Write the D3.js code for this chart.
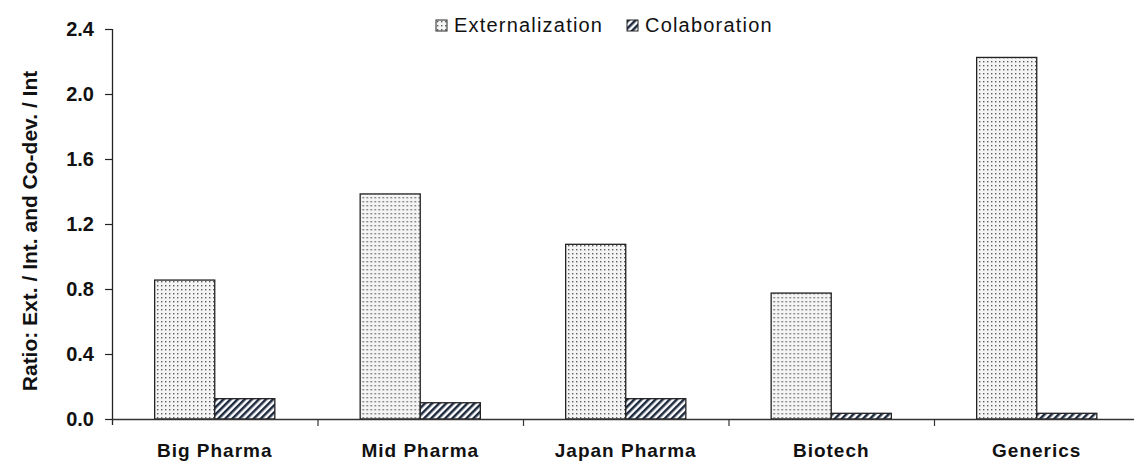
<!DOCTYPE html>
<html>
<head>
<meta charset="utf-8">
<script src="https://cdn.jsdelivr.net/npm/d3@7"></script>
<style>
  html, body { margin: 0; padding: 0; background: #fff; }
  svg { display: block; font-family: "Liberation Sans", Arial, sans-serif; }
</style>
</head>
<body>
<svg id="chart" width="1134" height="462"></svg>
<script>
// Categories and series
const categories = ["Big Pharma", "Mid Pharma", "Japan Pharma", "Biotech", "Generics"];
const seriesNames = ["Externalization", "Colaboration"];
const externalization = [0.855, 1.385, 1.075, 0.775, 2.225];
const colaboration = [0.125, 0.10, 0.125, 0.035, 0.035];
const yTicks = [0.0, 0.4, 0.8, 1.2, 1.6, 2.0, 2.4];

const svg = d3.select("#chart");
const margin = { left: 112, top: 29, bottom: 419 };
const bandStep = 205.5;

const x = d3.scaleBand()
  .domain(categories)
  .range([margin.left, margin.left + bandStep * categories.length])
  .paddingInner(0).paddingOuter(0);

const xSub = d3.scaleBand()
  .domain(seriesNames)
  .range([0, x.bandwidth()])
  .paddingInner(0)
  .paddingOuter(0.71);

const y = d3.scaleLinear().domain([0, 2.4]).range([margin.bottom, margin.top]);

// Fill patterns
const defs = svg.append("defs");
const dots = defs.append("pattern")
  .attr("id", "dots").attr("patternUnits", "userSpaceOnUse")
  .attr("width", 4).attr("height", 4);
dots.append("rect").attr("width", 4).attr("height", 4).attr("fill", "#f5f5f5");
dots.append("rect").attr("x", 1).attr("y", 1).attr("width", 1.4).attr("height", 1.4).attr("fill", "#5e5e5e");

const hatch = defs.append("pattern")
  .attr("id", "hatch").attr("patternUnits", "userSpaceOnUse")
  .attr("width", 5).attr("height", 5)
  .attr("patternTransform", "rotate(45)");
hatch.append("rect").attr("width", 5).attr("height", 5).attr("fill", "#ffffff");
hatch.append("rect").attr("x", 0).attr("y", 0).attr("width", 2.5).attr("height", 5).attr("fill", "#1e2a40");

const fills = { "Externalization": "url(#dots)", "Colaboration": "url(#hatch)" };
const rows = categories.map((c, i) => ({
  category: c,
  values: [
    { key: "Externalization", value: externalization[i] },
    { key: "Colaboration", value: colaboration[i] }
  ]
}));

// Bars
const groups = svg.append("g").selectAll("g")
  .data(rows).join("g")
  .attr("transform", d => `translate(${x(d.category)},0)`);

groups.selectAll("rect")
  .data(d => d.values).join("rect")
  .attr("x", d => xSub(d.key))
  .attr("width", xSub.bandwidth())
  .attr("y", d => y(d.value))
  .attr("height", d => y(0) - y(d.value))
  .attr("fill", d => fills[d.key])
  .attr("stroke", "#222")
  .attr("stroke-width", 1.3);

// Y axis
const yAxis = svg.append("g")
  .attr("transform", `translate(${margin.left},0)`)
  .call(d3.axisLeft(y).tickValues(yTicks).tickFormat(d3.format(".1f")).tickSize(7).tickSizeOuter(0));
yAxis.select(".domain").attr("stroke", "#222").attr("stroke-width", 1.3)
  .attr("d", `M0.5,${margin.top}V${margin.bottom + 6}`);
yAxis.selectAll(".tick line").attr("stroke", "#222").attr("stroke-width", 1.2);
yAxis.selectAll(".tick text")
  .attr("x", -18)
  .attr("font-size", 20).attr("font-weight", "bold").attr("fill", "#111")
  .attr("font-family", "Liberation Sans, Arial, sans-serif");

// X axis
const xAxis = svg.append("g")
  .attr("transform", `translate(0,${margin.bottom})`)
  .call(d3.axisBottom(x).tickSize(0).tickSizeOuter(0));
xAxis.select(".domain").attr("stroke", "#333").attr("stroke-width", 1.5)
  .attr("d", `M${margin.left},0.5H1134`);
xAxis.selectAll(".tick text")
  .attr("y", 25)
  .attr("font-size", 19).attr("font-weight", "bold").attr("fill", "#111")
  .attr("letter-spacing", "1px")
  .attr("font-family", "Liberation Sans, Arial, sans-serif");

// Separator ticks between categories
xAxis.append("g").selectAll("line")
  .data(categories.slice(1))
  .join("line")
  .attr("x1", d => x(d) + 0.5).attr("x2", d => x(d) + 0.5)
  .attr("y1", 0).attr("y2", 7)
  .attr("stroke", "#333").attr("stroke-width", 1.2);

// Y axis title
svg.append("text")
  .attr("transform", `translate(37,231) rotate(-90)`)
  .attr("text-anchor", "middle")
  .attr("font-size", 21).attr("font-weight", "bold").attr("fill", "#111")
  .text("Ratio: Ext. / Int. and Co-dev. / Int");

// Legend
const legendItems = [
  { key: "Externalization", x: 436 },
  { key: "Colaboration", x: 627 }
];
const legend = svg.append("g").selectAll("g")
  .data(legendItems).join("g")
  .attr("transform", d => `translate(${d.x},20)`);
legend.append("rect")
  .attr("width", 11).attr("height", 11)
  .attr("fill", d => fills[d.key])
  .attr("stroke", "#222").attr("stroke-width", 1);
legend.append("text")
  .attr("x", 18).attr("y", 12)
  .attr("font-size", 20).attr("fill", "#111")
  .attr("letter-spacing", "1.2px")
  .text(d => d.key);
</script>
</body>
</html>
